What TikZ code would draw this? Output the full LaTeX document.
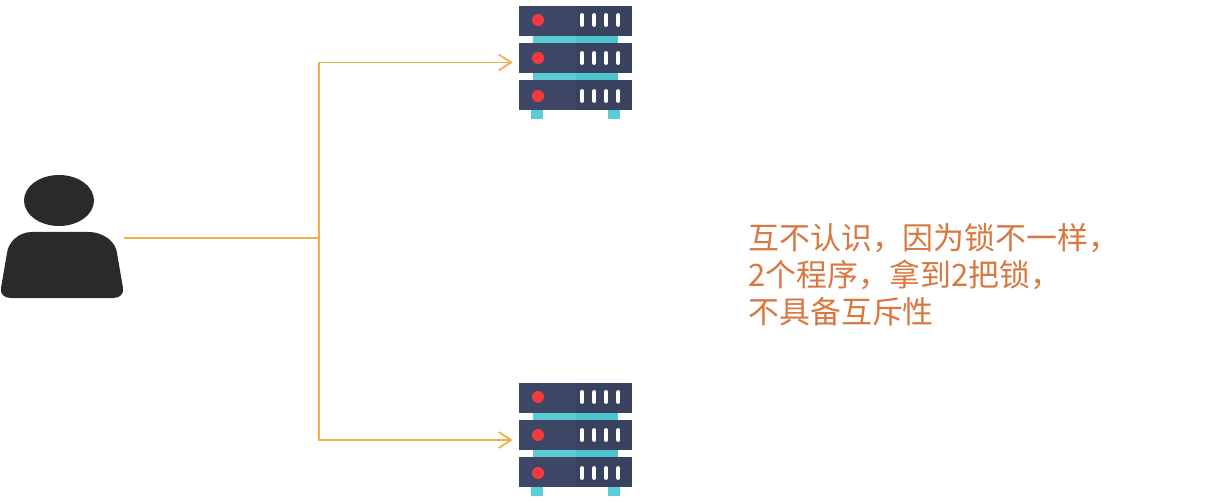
\documentclass[tikz,border=0pt]{standalone}
\usepackage{fontspec}
\usepackage{xcolor}
\usetikzlibrary{arrows.meta}
\newfontfamily\cjk{Noto Sans CJK SC}
\newcommand{\fwcomma}{\char"FF0C\relax}
\definecolor{rackdark}{HTML}{3e4766}
\definecolor{rackshade}{HTML}{39425e}
\definecolor{rackteal}{HTML}{5ccdd3}
\definecolor{rackshadeteal}{HTML}{4fc4cc}
\definecolor{rackred}{HTML}{f4393f}
\definecolor{linkorange}{HTML}{f5ad4c}
\definecolor{noteorange}{HTML}{d9773f}
\definecolor{userblack}{HTML}{2a2a2a}
\tikzset{
  rackbox/.style={minimum width=2.26cm,minimum height=2.26cm,inner sep=0pt},
  userbox/.style={minimum width=2.48cm,minimum height=2.48cm,inner sep=0pt},
  link/.style={linkorange,line width=1pt,-{Straight Barb[length=7pt,width=9pt]}},
  trunk/.style={linkorange,line width=1pt},
  serverrack/.pic={
    % posts and feet
    \fill[rackteal] (-42.5,-27.5) rectangle (42.5,17.5);
    \fill[rackshadeteal] (0,-27.5) rectangle (42.5,17.5);
    \fill[rackteal] (-44.5,47.5) rectangle (-32.5,56.5);
    \fill[rackteal] (32.5,47.5) rectangle (44.5,56.5);
    % three units
    \foreach \ytop/\ymid in {-56.5/-42.5,-19.5/-4.5,17.5/33.5} {
      \fill[rackdark] (-56.5,\ytop) rectangle (0,\ytop+30);
      \fill[rackshade] (0,\ytop) rectangle (56.5,\ytop+30);
      \fill[rackred] (-37.5,\ymid) circle[radius=6];
      \foreach \xbar in {6.5,18.8,30.5,42.8}
        \draw[white,line width=2.2pt,line cap=round] (\xbar,\ymid-5) -- (\xbar,\ymid+5);
    }
  }
}
\begin{document}
\begin{tikzpicture}[x=0.02cm,y=-0.02cm]
  \useasboundingbox (0,0) rectangle (1217,503);
  \node[userbox] (user) at (62,238) {};
  \fill[userblack] (59,200.5) ellipse[x radius=35,y radius=25.5];
  \fill[userblack] (32,232) -- (88,232) .. controls (105,232) and (116,243) .. (117,253)
    -- (123,288) .. controls (124,294) and (120,298) .. (113,298) -- (11,298)
    .. controls (4,298) and (0,294) .. (1,288) -- (7,253)
    .. controls (8,243) and (18,232) .. (32,232) -- cycle;

  \node[rackbox] (serverA) at (575.5,62.5) {};
  \node[rackbox] (serverB) at (575.5,439.5) {};
  \pic at (serverA) {serverrack};
  \pic at (serverB) {serverrack};

  \coordinate (junction) at (319,238);
  \draw[trunk] (user.east) -- (junction);
  \draw[link,shorten >=3.4pt] (junction) |- (serverA.west);
  \draw[link,shorten >=3.4pt] (junction) |- ([yshift=-0.3pt]serverB.west);

  \node[anchor=west,align=left,inner sep=0pt,text=noteorange,font=\cjk\fontsize{17.6}{21}\selectfont] (note) at (748,275)
    {互不认识\fwcomma 因为锁不一样\fwcomma\\2个程序\fwcomma 拿到2把锁\fwcomma\\不具备互斥性};
\end{tikzpicture}
\end{document}
